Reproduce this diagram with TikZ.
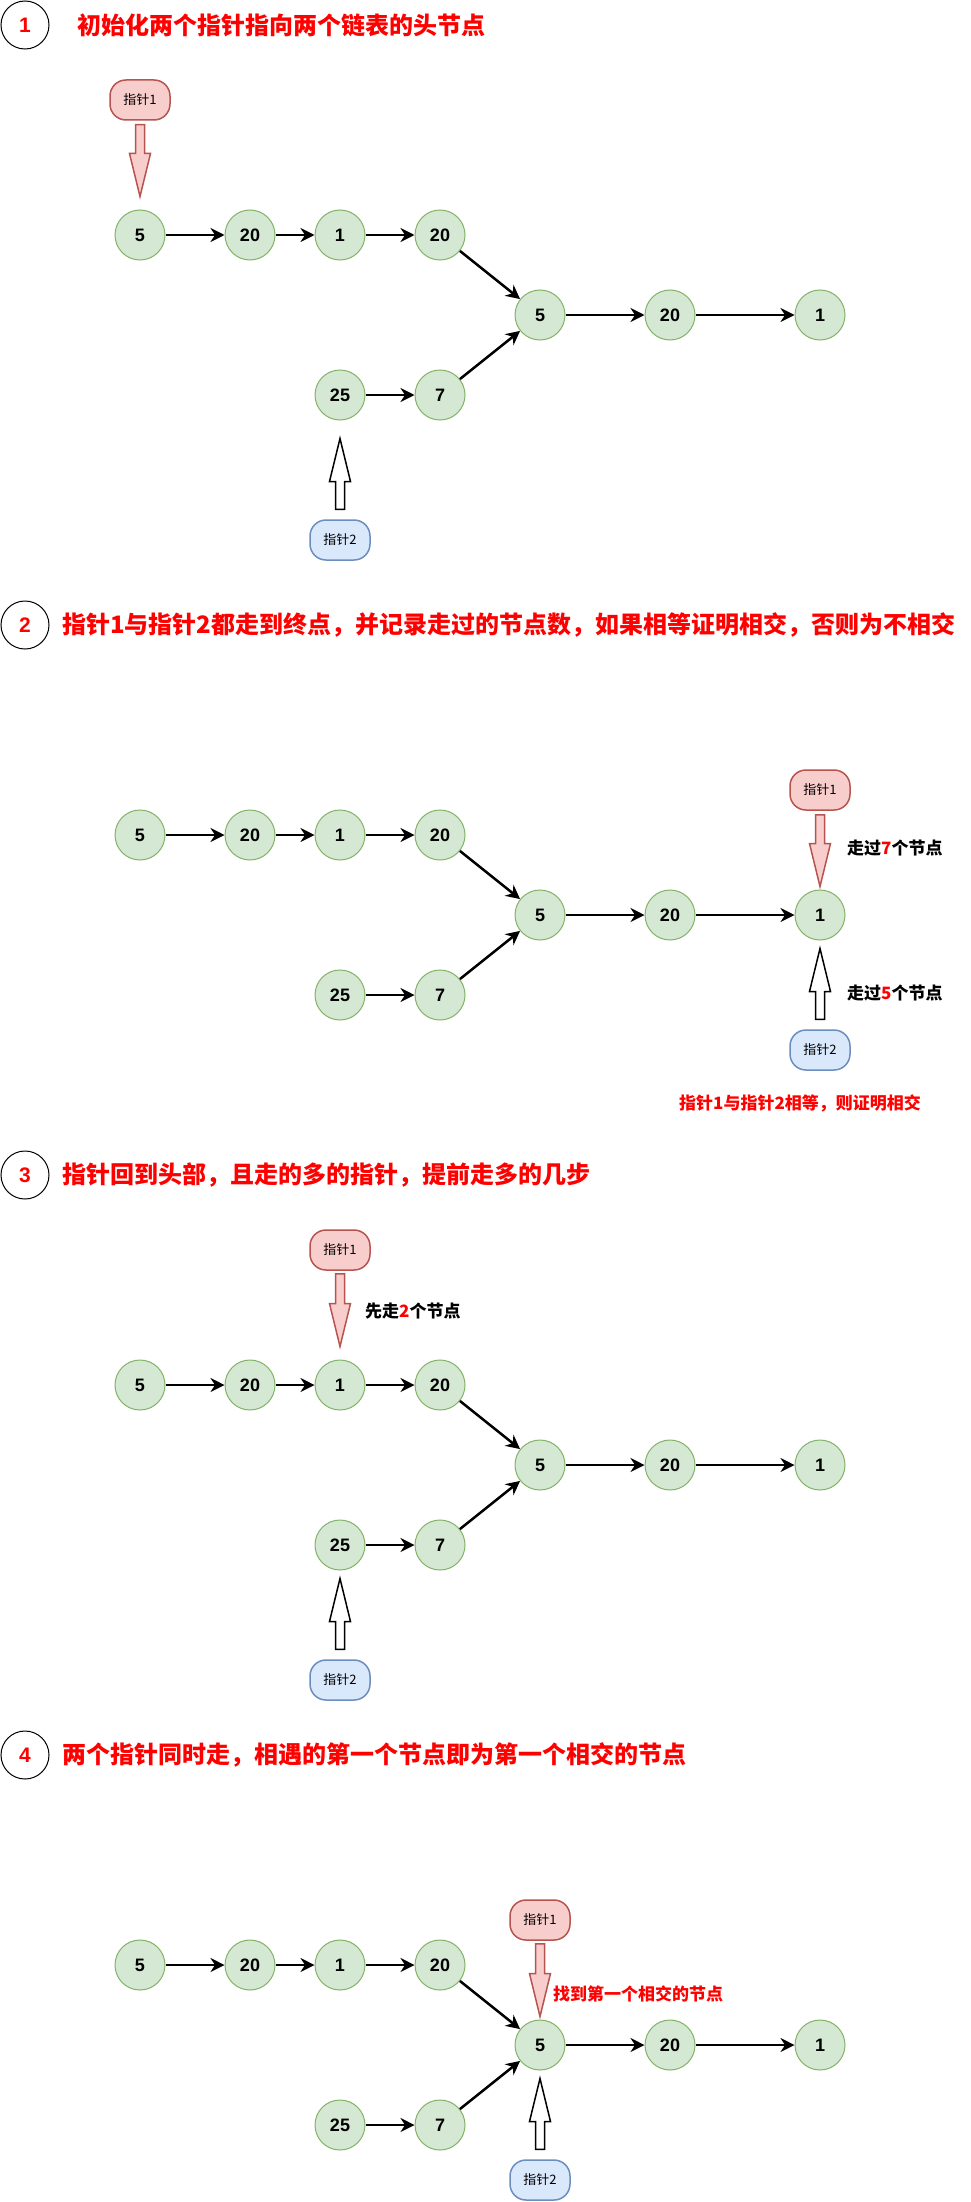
\documentclass[tikz,border=0pt]{standalone}
\usepackage{fontspec}
\setmainfont{Liberation Sans}
\newfontfamily\cjk{Noto Sans CJK SC}
\usetikzlibrary{calc,arrows.meta}

\definecolor{nodefill}{HTML}{D5E8D4}
\definecolor{nodeline}{HTML}{82B366}
\definecolor{redfill}{HTML}{F8CECC}
\definecolor{redline}{HTML}{B85450}
\definecolor{bluefill}{HTML}{DAE8FC}
\definecolor{blueline}{HTML}{6C8EBF}

% hollow block arrow from #2 to #3
\newcommand\ptrarrow[3]{%
  \coordinate (pa) at (#2);
  \coordinate (pb) at (#3);
  \coordinate (ph) at ($(pb)!43pt!(pa)$);
  \filldraw[#1] ($(pa)!4.5pt!90:(pb)$) -- ($(ph)!4.5pt!90:(pb)$) -- ($(ph)!10.5pt!90:(pb)$) -- (pb)
    -- ($(ph)!10.5pt!-90:(pb)$) -- ($(ph)!4.5pt!-90:(pb)$) -- ($(pa)!4.5pt!-90:(pb)$) -- cycle;
}

\begin{document}
\begin{tikzpicture}[x=1pt,y=-1pt,
    item/.style={circle,draw=nodeline,fill=nodefill,line width=1pt,minimum size=50pt,inner sep=0pt,
      font=\bfseries\fontsize{18}{20}\selectfont},
    link/.style={line width=2.5pt,-{Stealth[length=14pt,width=14pt]}},
    ptrone/.style={draw=redline,fill=redfill,line width=1.5pt,rounded corners=16pt,
      minimum width=60pt,minimum height=40pt,font=\cjk\fontsize{13}{15}\selectfont},
    ptrtwo/.style={ptrone,draw=blueline,fill=bluefill},
    onearrow/.style={draw=redline,fill=redfill,line width=1.5pt},
    twoarrow/.style={draw=black,fill=white,line width=1.5pt},
    stepno/.style={circle,draw,line width=1pt,minimum size=48pt,inner sep=0pt,text=red,
      font=\bfseries\fontsize{21}{24}\selectfont},
    steptitle/.style={anchor=west,inner sep=0pt,text=red,font=\cjk\bfseries\fontsize{24}{28}\selectfont},
    remark/.style={anchor=west,inner sep=0pt,font=\cjk\bfseries\fontsize{17}{20}\selectfont},
  ]
  \fill[white] (0,0) rectangle (971,2202);
  \useasboundingbox (0,0) rectangle (971,2202);

  \node[stepno] (n1) at (25,25) {1};
  \node[steptitle] (t1) at (77,25) {初始化两个指针指向两个链表的头节点};
  \node[stepno] (n2) at (25,625) {2};
  \node[steptitle] (t2) at (62,625) {指针1与指针2都走到终点，并记录走过的节点数，如果相等证明相交，否则为不相交};
  \node[stepno] (n3) at (25,1175) {3};
  \node[steptitle] (t3) at (62,1175) {指针回到头部，且走的多的指针，提前走多的几步};
  \node[stepno] (n4) at (25,1755) {4};
  \node[steptitle] (t4) at (62,1755) {两个指针同时走，相遇的第一个节点即为第一个相交的节点};

  % the two lists, same in every step
  \foreach \p/\dy in {1/0,2/600,3/1150,4/1730}{
    \node[item] (a\p-1) at (140,{235+\dy}) {5};
    \node[item] (a\p-2) at (250,{235+\dy}) {20};
    \node[item] (a\p-3) at (340,{235+\dy}) {1};
    \node[item] (a\p-4) at (440,{235+\dy}) {20};
    \node[item] (m\p-1) at (540,{315+\dy}) {5};
    \node[item] (m\p-2) at (670,{315+\dy}) {20};
    \node[item] (m\p-3) at (820,{315+\dy}) {1};
    \node[item] (b\p-1) at (340,{395+\dy}) {25};
    \node[item] (b\p-2) at (440,{395+\dy}) {7};
    \draw[link] (a\p-1) edge (a\p-2) (a\p-2) edge (a\p-3) (a\p-3) edge (a\p-4) (a\p-4) edge (m\p-1)
      (b\p-1) edge (b\p-2) (b\p-2) edge (m\p-1)
      (m\p-1) edge (m\p-2) (m\p-2) edge (m\p-3);
  }

  % step 1
  \node[ptrone] (q1-1) at (140,100) {指针1};
  \node[ptrtwo] (q1-2) at (340,540) {指针2};
  \ptrarrow{onearrow}{$(q1-1.south)+(0,4)$}{$(a1-1.north)+(0,-13)$}
  \ptrarrow{twoarrow}{$(q1-2.north)+(0,-10)$}{$(b1-1.south)+(0,18)$}

  % step 2
  \node[ptrone] (q2-1) at (820,790) {指针1};
  \node[ptrtwo] (q2-2) at (820,1050) {指针2};
  \ptrarrow{onearrow}{$(q2-1.south)+(0,4)$}{$(m2-3.north)+(0,-3)$}
  \ptrarrow{twoarrow}{$(q2-2.north)+(0,-10)$}{$(m2-3.south)+(0,8)$}
  \node[remark] (r1) at (847,848) {走过\textcolor{red}{7}个节点};
  \node[remark] (r2) at (847,993) {走过\textcolor{red}{5}个节点};
  \node[remark,anchor=center,text=red] (r3) at (800,1103) {指针1与指针2相等，则证明相交};

  % step 3
  \node[ptrone] (q3-1) at (340,1250) {指针1};
  \node[ptrtwo] (q3-2) at (340,1680) {指针2};
  \ptrarrow{onearrow}{$(q3-1.south)+(0,3)$}{$(a3-3.north)+(0,-13)$}
  \ptrarrow{twoarrow}{$(q3-2.north)+(0,-10)$}{$(b3-1.south)+(0,8)$}
  \node[remark] (r4) at (365,1311) {先走\textcolor{red}{2}个节点};

  % step 4
  \node[ptrone] (q4-1) at (540,1920) {指针1};
  \node[ptrtwo] (q4-2) at (540,2180) {指针2};
  \ptrarrow{onearrow}{$(q4-1.south)+(0,3)$}{$(m4-1.north)+(0,-3)$}
  \ptrarrow{twoarrow}{$(q4-2.north)+(0,-10)$}{$(m4-1.south)+(0,8)$}
  \node[remark,text=red] (r5) at (553,1994) {找到第一个相交的节点};
\end{tikzpicture}
\end{document}
